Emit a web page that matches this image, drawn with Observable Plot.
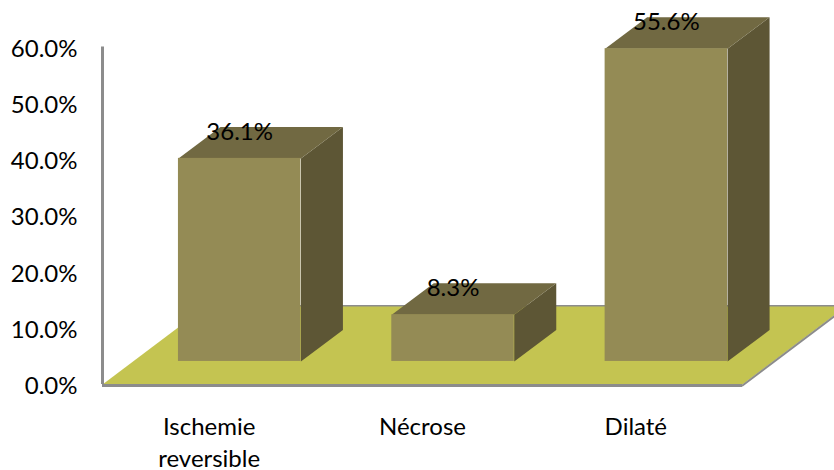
<!DOCTYPE html>
<html>
<head>
<meta charset="utf-8">
<script src="https://cdn.jsdelivr.net/npm/d3@7"></script>
<script src="https://cdn.jsdelivr.net/npm/@observablehq/plot@0.6"></script>
<style>
  html, body { margin: 0; padding: 0; background: #fff; }
  svg { display: block; }
</style>
</head>
<body>
<div id="chart"></div>
<script>
// Chart values
const categories = ["Ischemie\nreversible", "Nécrose", "Dilaté"];
const percentages = [36.1, 8.3, 55.6];
const yTicks = [0, 10, 20, 30, 40, 50, 60];

// Oblique projection, in scale units: x is category slots, y is percentage points
const barGap = 0.356;       // space from slot edge to the bar's front face
const barWidth = 0.574;
const baseLift = 4.1;       // the bars stand this far up the floor
const depthX = 0.197;       // how far a bar recedes
const depthY = 5.6;
const floorDepthX = 0.49;
const floorDepthY = 14;

const bars = percentages.map((value, i) => ({
  slot: i,
  value,
  left: i + barGap,
  right: i + barGap + barWidth,
  centre: i + barGap + barWidth / 2
}));

const topFaces = bars.flatMap(b => [
  {id: b.slot, x: b.left, y: b.value + baseLift},
  {id: b.slot, x: b.right, y: b.value + baseLift},
  {id: b.slot, x: b.right + depthX, y: b.value + baseLift + depthY},
  {id: b.slot, x: b.left + depthX, y: b.value + baseLift + depthY}
]);

const sideFaces = bars.flatMap(b => [
  {id: b.slot, x: b.right, y: baseLift},
  {id: b.slot, x: b.right + depthX, y: baseLift + depthY},
  {id: b.slot, x: b.right + depthX, y: b.value + baseLift + depthY},
  {id: b.slot, x: b.right, y: b.value + baseLift}
]);

const floor = [
  {x: 0, y: 0},
  {x: 3, y: 0},
  {x: 3 + floorDepthX, y: floorDepthY},
  {x: floorDepthX, y: floorDepthY}
];

const fontFamily = "Lato, 'Open Sans', sans-serif";
const labelSize = 24;
const axisGrey = "#8c8c8c";

const chart = Plot.plot({
  width: 834,
  height: 470,
  marginTop: 46.5, marginBottom: 86, marginLeft: 102, marginRight: 92,
  style: {fontFamily, fontSize: labelSize + "px", color: "#000", background: "#fff"},
  x: {type: "linear", domain: [0, 3], axis: null},
  y: {type: "linear", domain: [0, 60], axis: null},
  marks: [
    // Floor with its grey rim
    Plot.line(floor, {x: "x", y: "y", fill: "#c4c451", stroke: "none"}),
    Plot.line(floor.slice(2), {x: "x", y: "y", stroke: axisGrey, strokeWidth: 1.5}),
    Plot.line([floor[1], floor[2]], {x: "x", y: "y", stroke: axisGrey, strokeWidth: 2, dy: 1}),
    // Axes
    Plot.ruleX([0], {y1: 0, y2: 60, stroke: axisGrey, strokeWidth: 3}),
    Plot.ruleY([0], {x1: 0, x2: 3, stroke: axisGrey, strokeWidth: 3, dy: 1}),
    Plot.axisY({
      ticks: yTicks,
      anchor: "left",
      tickSize: 0,
      tickPadding: 25,
      tickFormat: d => d.toFixed(1) + "%",
      label: null,
      dy: 2,
      fontSize: labelSize
    }),
    // Bars: side, top, front
    Plot.line(sideFaces, {x: "x", y: "y", z: "id", fill: "#5d5635", stroke: "none"}),
    Plot.line(topFaces, {x: "x", y: "y", z: "id", fill: "#716942", stroke: "none"}),
    Plot.rect(bars, {
      x1: "left", x2: "right",
      y1: () => baseLift,
      y2: d => d.value + baseLift,
      fill: "#948b55"
    }),
    // Value labels
    Plot.text(bars, {
      x: "centre",
      y: d => d.value + baseLift,
      text: d => d.value.toFixed(1) + "%",
      dy: -26,
      fontSize: labelSize,
      fill: "#000"
    }),
    // Category labels
    Plot.text(bars, {
      x: d => d.slot + 0.5,
      y: () => 0,
      text: d => categories[d.slot],
      lineAnchor: "top",
      lineHeight: 1.33,
      dy: 28,
      fontSize: labelSize,
      fill: "#000"
    })
  ]
});

document.getElementById("chart").append(chart);
</script>
</body>
</html>
